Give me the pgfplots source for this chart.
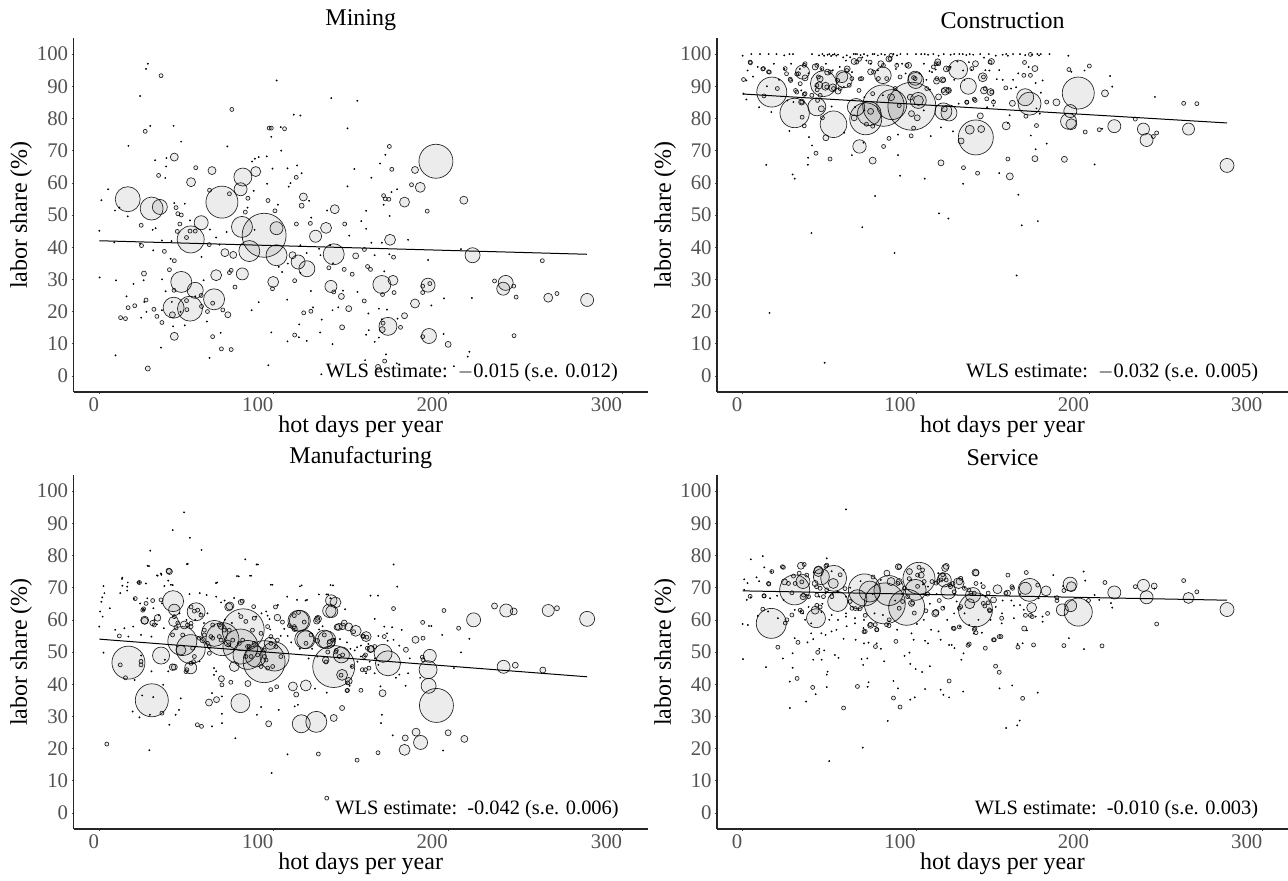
\documentclass[border=0pt]{standalone}
\usepackage{pgfplots}
\usepackage{fontspec}
\setmainfont{Liberation Serif}
\pgfplotsset{compat=1.18}
\definecolor{tickgray}{gray}{0.32}
\pgfplotsset{
  panel/.style={
    scale only axis, height=177pt, xmin=-14.8, xmax=314.6, ymin=-5, ymax=105,
    axis lines=left, axis line style={-, line width=0.55pt, black!85},
    xtick={0,100,200,300}, ytick={0,10,...,100},
    tick style={tickgray, line width=0.3pt}, major tick length=1pt, tick align=outside,
    /pgf/number format/assume math mode=true,
    tick label style={text=tickgray, font=\fontsize{10.4}{12}\selectfont},
    x tick label style={anchor=north east, xshift=1pt, yshift=-0.6pt, inner sep=1pt},
    y tick label style={anchor=east, xshift=0pt, inner sep=1.5pt},
    xlabel={hot days per year}, ylabel={labor share (\%)},
    every axis x label/.style={at={(axis description cs:0.5,-0.099)}, anchor=center, font=\fontsize{12}{14}\selectfont},
    every axis y label/.style={at={(axis description cs:-0.091,0.5)}, anchor=center, rotate=90, font=\fontsize{12}{14}\selectfont},
    every axis title/.style={at={(axis description cs:0.5,1.05)}, anchor=center, font=\fontsize{12}{14}\selectfont},
    clip=false,
  },
  bub/.style={scatter, only marks, mark=*, point meta=x,
    scatter/use mapped color={draw=black,fill=black},
    mark options={fill opacity=.075, draw opacity=.85, line width=.34pt},
    visualization depends on={\thisrow{r} \as \rad},
    scatter/@pre marker code/.append style={/tikz/mark size=\rad*0.5}},
  ring/.style={only marks, mark=*, mark size=1pt, mark options={draw=black, fill=black, fill opacity=.075, draw opacity=.85, line width=.34pt}},
  dot/.style={only marks, mark=*, mark size=.35pt, mark options={draw=black, fill=black, line width=.2pt}},
  fit/.style={black, line width=.5pt, no markers},
}
\newcommand{\wls}[1]{\fontsize{10.2}{12}\selectfont #1}
\begin{document}
\begin{tikzpicture}[x=1pt,y=1pt]
\path[use as bounding box] (0,0) rectangle (644,440);

%% ---------- Mining
\begin{axis}[panel, at={(36.75pt,244pt)}, anchor=south west, width=287.25pt, title={Mining}]
\addplot[bub] table[row sep=\\]{x y r\\
16.3 54.9 12.5\\ 30 52 11.5\\ 34.7 52.5 7.5\\ 70.3 54 16\\ 82.3 61.8 9\\ 89.7 63.5 5\\ 81 58 6.5\\ 52.4 42.4 13.5\\ 58.4 47.6 7\\ 94.5 43.7 22\\ 81.8 46.3 10.5\\ 86 38.8 10.5\\ 101.6 37.5 10.5\\ 101.6 45.9 6.5\\ 47 29.2 10.5\\ 55 26.6 8\\ 65.8 23.8 10.5\\ 52 20.9 12.5\\ 42.6 21.2 10.5\\ 193 66.7 17\\ 43 68 4\\ 64.6 63.8 4\\ 52.6 60.2 4.5\\ 184 58.6 5\\ 175 54 5\\ 181 64 3.5\\ 135 51.8 4.5\\ 130 46 5.5\\ 124 43.4 6\\ 166.7 42.3 5.5\\ 214 37.5 7.5\\ 134.4 37.8 10.5\\ 114 35.4 7\\ 119 33.3 8\\ 99.7 29.2 5.5\\ 82 31.7 6\\ 67 31.3 5.5\\ 132.8 27.8 6\\ 162 28.4 9\\ 168.4 29.7 5\\ 188.5 28.2 7\\ 233 28.9 7.5\\ 231.6 27.1 6.5\\ 257.4 24.3 4.5\\ 279.7 23.6 6.5\\ 165.5 15.4 9\\ 189 12.4 7.5\\ 181 22.5 4.5\\ 43 12.3 4\\ 209 54.6 4\\ 117 55.6 4\\ 72 38.3 4\\ 110.8 37.5 3.5\\ 76.8 37.6 3.5\\ 147 37.3 3\\ 138.8 24.7 3\\ 175 18.7 3\\ 200 9.8 3\\ 143 20.9 3\\ 139.2 15.1 2.5\\ 162.2 14.4 3\\ 73.7 19 3\\ 41.9 19 3\\ 159.8 2.8 2.5\\ 27.8 2.3 2.5\\ 25.6 31.8 2.5\\ 116 52.9 2.5\\
};
\addplot[ring] coordinates {(35.4,93.3)(76,82.8)(26.3,76)(97.4,77)(98.6,77)(106.2,76.8)(166.3,71.3)(34,62.3)(112.9,61.7)(167.7,64.2)(63.2,57.7)(74.6,56.6)(85.2,55.2)(96.7,54.5)(100.7,51.3)(44,52.3)(45,50.4)(83.7,50.9)(163,56)(166,54.9)(163.9,55)(179,59.4)(188,51.2)(140.7,47.2)(113,47.2)(121,47.4)(24,46.8)(46.2,47.2)(44.7,44.9)(24.2,40.5)(63,40.8)(37.3,38.7)(43,35.8)(254,35.8)(168.7,36.9)(152,39.3)(131.6,33.6)(140.4,33.1)(145,31.6)(153.8,34)(155.5,33.1)(40.2,33)(75.6,32.8)(74.6,32.1)(77.8,27.6)(112,29.6)(99.3,27.1)(134.4,26.1)(169,25.9)(162.4,25.3)(185.4,27.9)(185.4,25.9)(189.5,28.7)(226.6,29.5)(237.6,27.9)(239,24.5)(262.4,25.6)(151.9,23.3)(117.2,19.6)(121.3,20.1)(172.7,15.1)(162.7,16.4)(112,12.7)(185.4,12.2)(237.8,12.5)(70,8.4)(75.6,8.2)(65,12.2)(35.9,16.6)(70.8,20.5)(12.2,18.1)(15,17.8)(33,18.5)(31.3,20.7)(16.5,21.2)(20.3,21.8)(26.8,23.6)(50,23.4)(42.8,26.6)(58.4,25)(58.6,21.6)(65,22.6)(50.2,20.6)(163.6,4.6)(55.3,64.7)(50,43)(55,45)(52,45)(62,20)(47,50)};
\addplot[dot] coordinates {(27.8,97)(26.8,95.4)(23.4,87)(101.7,91.8)(111.5,81.2)(115.3,80.9)(133,86.3)(148,85.5)(16.7,71.5)(29.2,77.7)(42.6,77.7)(46.9,72.8)(73.4,71.3)(104,77.3)(98.6,74.3)(104.3,70)(142.3,76.9)(164,68.7)(89.2,67.5)(87.6,66.6)(91.4,68)(96,68.2)(32,67)(38.5,67.7)(38.3,65.1)(37.8,61.5)(99.3,64.4)(107.9,64.5)(113.4,65.4)(116,63)(146.2,64.3)(161,66)(156,61.6)(96.2,59.7)(109.6,59.9)(108.6,58.8)(142.3,58.9)(5,58)(88.5,57.5)(120.3,54.4)(102.4,53.2)(1.2,54.6)(9,51.4)(11.5,52.3)(16.3,49.6)(43,53.7)(49,53.5)(85,52.3)(130.6,51.4)(153,51.3)(163,53.2)(167.5,57.1)(170.8,58)(166.5,49.7)(150.2,48.1)(153,45.7)(143.3,43.6)(121.5,49.2)(0,45.1)(30.6,45.4)(32.3,45.9)(52,48.3)(63.4,45.5)(73,44.7)(67,43)(89,45.4)(8.6,41.5)(23.4,41.1)(35.9,42.1)(41.4,41.9)(68.9,40.8)(30.9,39)(40.9,36.4)(58.6,37)(115.3,40.6)(118.9,38.2)(126,39.5)(126.8,37.5)(132.3,40.6)(156,41.4)(162,41.4)(177,42.3)(207.4,39.4)(188.5,36)(166.3,37.8)(157.9,37.5)(134,35)(163.4,32.5)(36,30)(9.6,29.7)(25.4,29.7)(19.6,28.6)(59.8,29.7)(102.9,33.9)(104.8,32.3)(108.1,34.9)(115.3,32)(121.3,26.4)(139.7,26.5)(148,26.1)(213.6,24.2)(197.6,24.1)(190.4,21.9)(107.7,23.7)(91.4,22.9)(87.3,20.4)(122.5,21.3)(133.7,20.4)(137,21.3)(154.3,19.4)(160.3,20.9)(165,20.6)(171,17.8)(162,17.6)(154.5,14.2)(127.5,17.5)(114.6,16)(126.6,13.5)(98.6,13.5)(114.4,12)(118.9,10.9)(107.9,10.7)(133.7,9.9)(153,12.8)(157.9,10.6)(160.3,11.9)(197.4,13)(35.4,8.8)(69.6,13.4)(49,15.7)(42.3,15.4)(61.7,16.9)(9.3,6.4)(24,18.1)(27,19.9)(35.9,20.4)(15.6,24.7)(25.8,23)(38,26.3)(41.6,23)(55,24.7)(46.6,19.9)(63.2,5.6)(96.9,3.3)(152.4,4.9)(164.4,6.7)(170.6,3.9)(203.3,3)(211.2,6)(212.2,7.5)(127.3,.5)(0.2,30.6)};
\addplot[fit] coordinates {(0,42)(279.6,37.8)};
\node[anchor=east, inner sep=0pt] at (axis cs:297.6,1.1) {\wls{WLS estimate:\ \ $-$0.015 (s.e. 0.012)}};
\end{axis}

%% ---------- Construction
\begin{axis}[panel, at={(358.5pt,244pt)}, anchor=south west, width=285.5pt, title={Construction}]
\addplot[bub] table[row sep=\\]{x y r\\
16.8 88.2 15\\ 30 81.7 14.7\\ 42.8 83.6 9\\ 52.4 78.2 13.3\\ 46.6 90.8 13\\ 58.6 92 8\\ 34.5 94.4 7\\ 71 79.9 16\\ 65.4 83.5 8.7\\ 73 81.5 12\\ 81.2 84 20.7\\ 86 84.3 15\\ 97.6 83.8 24\\ 101.3 85.6 8\\ 115.8 82.2 8.5\\ 119 81.7 8\\ 130.2 90 8\\ 124.3 95.2 9.5\\ 134.5 74.1 17.5\\ 67.4 71.3 6.7\\ 80.9 93.4 8.3\\ 99.5 92.5 7\\ 163 86.6 8.5\\ 165.5 84.6 11.5\\ 193.6 87.9 16\\ 189 82.3 6.5\\ 188 79.1 8\\ 189.6 78.2 5.5\\ 214.4 77.6 6.5\\ 231.2 76.7 6\\ 233 73.3 6.5\\ 257.2 76.7 6\\ 279.4 65.4 7\\ 209 87.8 3.5\\ 181 85 3.5\\ 152 77.7 4\\ 131 76.5 4.5\\ 137.6 76.7 3.5\\ 126 73 3\\ 75 66.9 3.5\\ 114.4 66.2 3\\ 154.1 62 3.5\\ 168.6 67.5 3\\ 185.6 67.3 3\\ 168.6 95.5 3\\ 155.6 84.7 3\\ 143.5 97.7 3\\ 134.3 97 3\\ 138.5 92.8 4.5\\ 139.2 88.7 3.5\\ 143 88.2 3.5\\ 137.1 80.8 3\\ 112.5 97.6 3\\ 117.5 95.4 3\\ 111.8 91.6 3\\ 115.4 92 3\\ 116.8 88.5 4\\ 118.7 88.7 3\\ 113 86.7 3\\ 99.8 91.8 8\\ 95.7 96.5 3\\ 79.7 97 3\\ 84.4 98.5 3\\ 73.8 94.5 3\\ 64.3 97.7 3\\ 60.3 95.4 3\\ 57.2 93 6\\ 49 94.4 3\\ 41.8 96 3\\ 36 92.6 3\\ 34 85.1 3\\ 48 74 3\\ 45.4 83 3\\ 64.3 80.2 3\\ 73.8 82.2 3\\ 85.6 86.6 3.5\\ 96.7 86.6 3\\ 101.4 85.6 5\\ 97.4 81.5 3\\ 100.7 80.2 3\\ 116.3 83 3\\ 47.8 90 4\\ 44.2 90.3 3.5\\ 44.7 92.3 3\\ 52 89.5 4\\ 55 88.5 3\\
};
\addplot[ring] coordinates {(42.3,69.2)(50.4,67.4)(81.3,71.3)(84.4,73.8)(97.2,74.6)(98.6,77)(127.4,64.7)(135.5,63)(153,67.4)(169.5,77.8)(197.6,75.8)(205.7,76.5)(226.5,79.8)(236.9,74.4)(238.8,75.5)(254.4,84.7)(262,84.6)(200,96.3)(188.2,95.2)(175.4,85.1)(163.4,80.7)(162.6,97.4)(166,99.9)(162.2,93.4)(166,93.4)(151.8,89.5)(133.6,86)(129.3,85)(111.6,97)(98.6,92.7)(85.6,99.6)(67.4,98.4)(67.8,92.3)(35.5,96.5)(31.2,93.8)(25.3,93.9)(27.7,91.8)(15.4,94.4)(11.6,95.4)(4.5,97.3)(.5,92.1)(12.3,87)(20,89.3)(30.5,88.7)(35.5,87.5)(35.5,77.7)(34.3,80.4)(46,80.2)(71.4,78.2)(75,77.6)(67.1,88.7)(75,87.7)(90.3,84)(43,88.9)(61.5,90.3)(54.8,91.8)
(4.3,97.5)(12,95.5)(14.9,94.5)(24.5,95.5)(27.4,92.2)(31.2,88.2)(34.1,85.1)(36,87.7)(33.2,90.8)(32.2,93.9)(36,97)(42.8,96.5)(45.7,95.5)(50.5,94.4)(43.7,92.9)(42.8,90.3)(39.9,87.2)(43.2,85.6)(44.7,87.2)(48.5,89.8)(52.4,89.3)(56.2,89.3)(60.1,94.9)(65.8,97.5)(68.7,92.4)(63,92.4)(75.5,94.4)(73.5,97.5)(81.2,96.5)(78.3,92.4)(83.1,92.4)(85,98.6)(88.9,96.5)(90.8,92.9)(88,89.3)(94.7,96.5)(99.5,92.4)(106.2,89.3)(112,92.4)(115.8,91.9)(110,96)(113,97)(118.7,95.5)(132.2,95.5)(142.7,97.5)(138.9,92.9)(139.9,89.3)(143.7,88.2)(134.1,85.6)(140.8,86.1)(144.7,85.1)(129.3,85.1)(115.8,88.7)(118.7,88.7)};
\addplot[dot] coordinates {(0,99.5)(5,100)(10,100)(15,100)(19.5,100)(24,99.6)(27,100)(29,100)(40,100)(44,99.6)(46,100)(47,99.5)(49,99.8)(50,100)(51,99.4)(52,99.8)(53,100)(54,99.5)(55,99.8)(58,99)(60,99.6)(64,100)(65,100)(66,100)(68,99.7)(70,100)(72,99.5)(75,100)(76,100)(78,99.6)(80,100)(82,99.8)(87,100)(89,99.6)(91,100)(95,100)(100,100)(103,100)(105,100)(107,99.8)(110,100)(113,99.5)(116,100)(120,99.8)(122,100)(125,100)(127,100)(129,99.7)(131,100)(133,99.8)(137,100)(142,100)(146,99.5)(150,99.8)(152,100)(153,99.5)(156,100)(160,100)(163,99.7)(167,99.8)(170,100)(171,99.6)(172,100)(177,100)(187.9,99.5)
(15.5,19.6)(47.3,4.1)(39.7,44.4)(87.6,38.2)(69,46.2)(76.4,55.9)(113.3,50.5)(118.7,48.9)(159,56.3)(161,46.8)(170.3,48.1)(158,31.2)(28.8,62.6)(30,61.3)(13.6,65.6)(37.8,67.8)(37.6,65.6)(63,68.6)(69.7,72.5)(89.6,75)(89.6,68.6)(90.8,62.2)(105,61.3)(127.2,59.7)(148,63)(203,65.7)(169,70.4)(175.4,72.2)(166.2,74.7)(207.3,76.8)(237.8,86.7)(213.2,89.9)(212,93.2)(189.6,94.5)(197.2,94.9)(169.5,83.1)(171.4,81.5)(173,91.8)(154.8,89.3)(157.7,89.7)(154,81)(153,78.6)(146.6,92.2)(139.2,98.9)(130.5,97.5)(123.9,97.7)(127.2,94.9)(142.3,94.9)(124.6,84.6)(144.7,85.6)(141,83.5)(144.7,84)(121.3,76)(114.4,77.2)(108.5,74.5)(111.3,95.2)(109.2,94.4)(107.8,94.7)(104.5,97)(88.4,95.4)(89,97)(69,99)(71.4,98)(59.6,98)(63.1,94.4)(45.4,95.4)(33,95.4)(24,95.4)(8.7,96)(2.8,94.9)(2.1,91.8)(.5,87.7)(2.1,85.9)(9.5,83.5)(16.5,82)(25.8,85.6)(29.3,85.1)(33.8,88.7)(27,76.1)(38.3,74.2)(40,71.6)(51.3,83.7)(58.6,75.6)(64.8,83.5)(70.2,82.5)(70.2,86.6)(80.9,87.2)(104.5,82.5)(58.4,89.8)(48,97)(52,95)(56,96)(62,99)(74,97)(78,95)(92,97)(94,94)(102,94)(106,92)(108,89)(120,96)(122,92)(128,92)(132,95)(140,95)(148,95)(150,92)(156,92)(159,94)(165,96)(169,91)(172,88)(18,97)(21,92)(14,90)(6,93)(28,97)(38,94)(42,90)};
\addplot[fit] coordinates {(0,87.6)(279.4,78.6)};
\node[anchor=east, inner sep=0pt] at (axis cs:297.6,1.1) {\wls{WLS estimate:\ \ $-$0.032 (s.e. 0.005)}};
\end{axis}

%% ---------- Manufacturing
\begin{axis}[panel, at={(36.75pt,25.5pt)}, anchor=south west, width=287.25pt, title={Manufacturing}]
\addplot[bub] table[row sep=\\]{x y r\\
16.7 46.7 16.5\\ 30.1 35 16.5\\ 35.4 48.9 8.5\\ 42.3 65.8 10.5\\ 55.5 62.5 9\\ 47.6 53.4 14.5\\ 52.4 50.9 14.5\\ 52.4 45.1 6\\ 66 55.8 13\\ 70.6 54 16.5\\ 82.5 56.9 21\\ 80.9 51.7 17.5\\ 85 49.1 14.5\\ 89.7 48.6 10.5\\ 94.5 47 21\\ 100.5 48.6 14.5\\ 98 52.7 6\\ 80.9 34.1 9.5\\ 115 59.7 10.5\\ 118.4 53.8 9\\ 135.4 65.4 5.5\\ 133.3 62.6 6\\ 130.4 53.8 9\\ 134.4 45.5 21\\ 138.8 49.1 8\\ 139.2 42.9 5.5\\ 118.4 39.6 5.5\\ 111 39.3 4.5\\ 115.8 27.7 9\\ 124.4 28.3 10.5\\ 162.7 49.6 9\\ 165.5 46.5 12.5\\ 189.5 48.8 6.5\\ 188.5 44.5 9\\ 188.8 39.5 7.5\\ 193.3 33.4 17\\ 184.2 21.9 7\\ 175 19.6 5.5\\ 181.6 25.1 4\\ 175.4 23.3 3\\ 200 24.9 3\\ 209.3 23 3.5\\ 214.6 60 7\\ 233.3 62.9 6.5\\ 257.4 62.9 6\\ 279.7 60.3 7.5\\ 231.8 45.4 6.5\\ 254.3 44.4 3\\ 226.6 64.3 3\\ 237.6 62.6 3.5\\ 262.4 63.6 2.5\\ 238.5 45.9 3\\ 147 56.6 5.5\\ 143 57.8 4\\ 153 54.8 5\\ 137.3 57.8 3.5\\ 140.4 59 3\\ 155.5 50.9 3.5\\ 181.3 53.8 3.5\\ 175.8 50.7 2.5\\ 74.9 64.3 4\\ 125.4 60.3 3.5\\ 40.2 75 3\\ 62.9 34.3 3.5\\ 67.2 35.2 3\\ 70 41.7 3\\ 85.2 40.2 3\\ 97.1 27.7 3\\ 134.4 29.5 3.5\\ 139.2 32.6 2.5\\ 143 41 3.5\\ 112.9 36.8 2.5\\ 162.4 37.2 3.5\\ 26 59.7 3.5\\ 43 63.1 5.7\\ 42.6 59.5 5\\ 26 59.9 4\\ 33.4 60.6 3.3\\ 30.5 59 2.7\\ 22.5 71.6 1.7\\ 39.8 75.2 2.7\\ 74.2 64 4\\ 81.2 65.5 2.7\\ 102.1 60.7 3.3\\ 114.2 59.7 10.5\\ 124.7 59.7 3.3\\ 112 57.2 2.7\\ 117.5 54 9.5\\ 125 53.5 2.3\\ 129 54 9\\ 136.3 57.7 3\\ 139.5 58 3.3\\ 132.8 52.7 4\\ 129.8 47.5 3.3\\ 155.8 51 3.3\\ 69.8 57.9 2.7\\ 73.6 52.7 3.3\\ 59.3 53.7 2.7\\ 48.7 58.4 4\\ 46.8 50.6 5\\ 42 45.3 3.3\\ 77.4 45.5 5\\ 43 45.3 3\\ 133 66 5.7\\ 131.9 62.8 6.7\\
};
\addplot[ring] coordinates {(12,46)(15,42)(23.9,46)(52.6,64)(54,47)(70.3,39.8)(142,38)(168.7,63.5)(185.4,59.2)(197.6,62.9)(206,57.4)(185.6,54.3)(185.2,48.4)(185.6,47.6)(159.8,18.7)(147.8,16.4)(125.6,18.3)(130.4,4.6)(4.3,21.4)(35.9,31)(23.9,47.1)(50.2,44.5)(75.4,40.6)(56.2,27.4)(58.6,26.9)(98.3,38.3)(101.7,39.2)(142.3,38.1)(150,38.1)(152.6,44.5)(151.9,48.6)(157.9,51.7)(152.6,49.1)(163.4,54.8)(82,65.8)(88.5,64.1)(11.5,55)(20.6,66.6)(30.6,66)(35.4,66.2)(23,71.6)(25.4,63.4)(101,64)(105,59.3)(109,58.2)(145.8,56.3)(151,55)(153.4,54.6)(135.9,50.5)(60.2,56.8)(64,54.8)(65,58.4)(52.6,57.9)(47.8,55.3)(53.5,51.2)(57.3,54.3)(63,51.7)(68.8,54.8)(74.5,56.8)(80.3,52.7)(86,51.7)(90.8,49.1)(94.6,48.6)(96.5,45)(99.4,45.5)(92.7,45.5)(84,48.6)(49.7,43.9)
(31.5,58.4)(24.9,63)(26.8,65.1)(43,61)(44,57.5)(42,55.3)(45,59)(54.5,62.7)(56.4,63)(58.3,61.5)(50.6,58.4)(52.6,58.9)(60.2,55.3)(62,52.7)(54.5,48.6)(52.6,46.5)(63.1,49.6)(65,54.3)(68.8,58.4)(69.8,53.7)(71.6,56.8)(74.2,52.2)(76.5,53.7)(81.2,61)(84,59.5)(88.8,60.5)(87.8,56.8)(92.7,55.8)(82.2,53.7)(85,51.7)(88.8,52.7)(87,48.6)(94.6,50.6)(95.6,47.5)(98.4,52.7)(101.3,51.7)(104.1,48.6)(102.1,53.7)(98.4,54.8)(96.5,57.9)(111.8,61.3)(117.5,59.3)(114.2,62.3)(111.8,57.9)(118.5,52.7)(121.4,55.3)(125.2,60.5)(129,55.3)(131.9,53.2)(133.8,53.7)(131,50)(130,46.9)(135.6,50)(138.6,42.8)(142.4,40.4)(139.5,49.1)(137.6,48.6)(145,45.5)(150.8,44.5)(154.6,45)(153.7,51.2)(151.5,54.8)};
\addplot[dot] coordinates {(48.6,93.4)(42.1,87.9)(51.9,85.5)(58.6,81.7)(29.2,81.5)(83.7,78.8)(90.9,77.2)(50.7,77.4)(28.5,76.7)(168.7,77.2)(33.5,73.7)(35.6,74)(79.9,73.5)(87,73.7)(13.2,73.1)(16.3,71.6)(23,71.7)(39.5,72.2)(42.1,70.8)(67.5,71.6)(134,70.7)(116,70.7)(99.3,70.9)(170.8,70.3)(2.4,70.5)(1.2,65.6)(2.9,68.3)(1.7,67)(.5,62.6)(1.9,61)(0,57.9)(6,63.6)(12,68.3)(16,70.3)(16,69.1)(19.9,66.5)(27.5,66.7)(23.4,65.1)(25,63.1)(31.6,60)(33,58.6)(34.2,61.5)(37,57.4)(31,63.6)(35.9,65.1)(51.7,68)(57.6,68.3)(61.5,67.7)(67,67.2)(71.8,66)(77.3,66.8)(95.7,62.6)(102.4,64.6)(107.7,67.2)(113.4,66.2)(119.1,66.2)(131.1,67.9)(132.5,66.7)(155.5,67.5)(159.8,67.5)(157.9,60.3)(163.4,57.9)(167.9,57.7)(173.4,56.9)(165,55.8)(165.3,53.5)(168.7,53.8)(189,58.1)(190.4,58.1)(196.6,55.3)(212.2,54.1)(207.4,49.9)(203.3,45)(177,43.4)(175.6,39.5)(161.2,39.3)(162,30.5)(161.5,27.9)(168.2,24.1)(197.1,19.4)(107.9,18.2)(98.8,12.4)(78,23.2)(28.7,19.5)(43.8,30.5)(40.2,27.4)(45.7,32)(29,30.5)(23,29.7)(19.1,31.5)(24.6,36.5)(30.9,36)(36.6,39.8)(46.7,35.6)(29.9,44)(24,48.9)(20.3,41.3)(2.4,49.8)(16.7,54.8)(9.1,56.9)(14.4,57.4)(19.4,57.9)(23.9,55.3)(29.9,54.8)(39.5,44)(37.6,47.6)(57.4,47.1)(65.8,45)(67,44)(65.8,42.9)(64.6,37.2)(70.3,36.2)(70.3,30.8)(70.3,27.9)(64.6,26.9)(90.4,30.5)(92.8,32.9)(102.9,32)(112,33.1)(113.9,33.6)(129.2,30.2)(123.7,38.6)(130.4,37.4)(143.5,39.5)(144.7,45.5)(153,43.4)(157.9,43.4)(146.4,50.5)(147.8,51.5)(154.3,52.5)(13,72.7)(13.2,70.6)(26.7,71.3)(37.3,70.5)(41,70.9)(33.1,73.8)(35.3,74.4)(27.7,76.8)(50.3,77.3)(66.9,71.4)(78.9,73.6)(86.4,73.7)(90.2,77.2)(98.4,70.9)(115,70.4)(118.3,66)(132.6,70.8)(130.2,67.9)(140.9,63.3)(125.9,67.9)(69.8,65.4)(97.6,60.2)(96.5,61.3)(106,57.2)(125,48.6)(150,48.6)(55,60)(58,62)(60,59)(62,62)(46,62)(50,60)(72,60)(76,59)(80,62)(90,61)(93,62)(98,57)(104,55)(108,55)(110,53)(115,51)(120,48)(122,51)(126,57)(128,58)(135,54)(138,54)(142,53)(144,51)(148,47)(150,52)(155,47)(158,48)(160,46)(170,42)(172,43)(160,55)(172,52)(178,48)(184,42)};
\addplot[fit] coordinates {(0,54)(279.7,42.3)};
\node[anchor=east, inner sep=0pt] at (axis cs:298,1) {\wls{WLS estimate:\ \ -0.042 (s.e. 0.006)}};
\end{axis}

%% ---------- Service
\begin{axis}[panel, at={(358.5pt,25.5pt)}, anchor=south west, width=285.5pt, title={Service}]
\addplot[bub] table[row sep=\\]{x y r\\
16.5 58.9 15\\ 30 69.3 15\\ 42.3 60.5 9.5\\ 34.8 71.9 7\\ 45.4 73.4 8\\ 52.5 72.9 13\\ 54.8 65.7 10\\ 70.2 69.3 16\\ 66.2 66.4 9.5\\ 73.3 68.8 10.5\\ 82 65.1 20.5\\ 84.4 69.1 15\\ 94.6 63.9 18\\ 101.7 72.9 16\\ 99.8 69.3 10.5\\ 116.3 72.4 7\\ 118.7 68.8 7.5\\ 124.6 71.4 5.5\\ 134.3 63.1 17\\ 131 65 5\\ 132.9 67.7 7.5\\ 165.5 69.3 11.5\\ 163.1 69.8 6\\ 175 69 5\\ 166.7 63.8 5\\ 193.6 62.4 14\\ 189.2 64.4 6\\ 184.4 63.1 6\\ 188.9 71.1 7\\ 189.6 70.3 5\\ 214.4 68.5 6.5\\ 231.2 70.7 6\\ 233 67 6.5\\ 257.2 66.8 5.5\\ 279.4 63.2 7\\ 147 69.5 4.5\\ 134.3 74.7 3.5\\ 33.6 76.8 3.5\\ 111.1 62 3.5\\ 237.4 70.5 3\\ 162.4 57.3 2.5\\ 73.8 58.3 3\\ 24.1 71.8 3\\ 34.8 67.2 3\\ 43.7 75 5\\ 41.8 63 4\\ 83.2 74.5 3\\ 89.8 76.5 3\\ 96.2 75 3\\ 103 73.9 3\\ 90.3 71.9 3\\ 85.6 71.9 4\\ 116.8 76.1 3.5\\ 115.1 73.4 4\\ 97.4 65.1 3\\ 144.7 66.2 3\\ 52.3 71.3 5\\ 43.7 75.5 4\\ 41.8 71.3 3\\ 70.7 56.4 2\\ 90.4 76.5 2.3\\ 117.4 76.6 3\\ 125 71.9 3.3\\ 134.6 74.6 3\\ 152.8 68.3 3\\ 111.5 62.3 3\\
};
\addplot[ring] coordinates {(58.2,32.6)(90.8,32.9)(87,35.7)(161.5,35.6)(119.1,41)(66.2,39.3)(40.4,39)(31.4,41.8)(145.9,45.6)(148,43.7)(20.3,51.5)(43.3,49.9)(31.9,53)(76.6,51.7)(88.4,53.3)(130,52.1)(140,51.2)(144.7,53.8)(148,54.8)(158.8,51.5)(167.8,52.2)(185.3,52)(207.3,51.9)(238.8,58.7)(199.5,66)(209,71.6)(226.5,70.3)(254.4,72.2)(262,68.7)(185.3,69.1)(181.3,66.9)(181.3,66)(175.9,62)(166,61.4)(167,61)(163.1,61.4)(149.4,60.5)(134,57.4)(121.5,57.4)(84.4,58.2)(77.3,56.9)(70,56.3)(24.6,59)(11.6,63.3)(22.9,76.5)(15.1,71.1)(12.3,67.5)(29.3,73.6)(32.6,74.5)(35.5,77.2)(48,76.7)(42.6,70.3)(63.1,63.6)(75.2,73.3)(101.7,76.3)(109.2,71.9)(111.6,71.4)(125.8,72.9)(119.9,70.3)(90.3,63.6)(138.8,65.1)(142.3,63.1)(125.8,64.1)(130.5,69.3)(151.8,68.3)(155.3,70.3)(153,73.9)(163.6,74.7)(170.2,70.8)
(23.5,76.3)(16.8,75)(14.9,71.3)(12.4,67.4)(4.3,67.3)(26.4,71.3)(28.4,68.4)(30.3,71.3)(34.1,71.8)(37,73.9)(44.7,69.8)(42.8,67.7)(38,67.2)(35.1,67.7)(48.5,77)(56.2,74)(59,69.7)(48.5,69.3)(46.6,67.2)(51.4,67.2)(44.7,64)(42.8,64.5)(28.4,61.5)(25.5,60)(33.2,63)(34.1,62.5)(62,65.7)(65,63.5)(67.8,63.5)(70.7,61.4)(73.6,58.5)(76.5,58.5)(77.4,57)(83,58.5)(84.5,60)(89.5,71.3)(93.3,69.8)(96.1,72.8)(100.9,73.9)(103.8,75.5)(104.7,71.9)(100.9,70.4)(106.7,68)(95.2,67.2)(92.3,65.7)(98,65.2)(99,62.1)(105.7,62.8)(112.5,71.9)(115.4,74)(114.4,72.4)(117.4,72.4)(119.4,70.9)(122,68.7)(121.3,71.3)(113.4,66)(115.4,63.6)(127.9,69.8)(131.7,68.3)(133.6,68.3)(134.6,71.3)(138.8,70.3)(141.6,68.3)(141.6,65.3)(139.7,64.3)(142.6,62.8)(125,63.6)(122,57.3)(125,57.8)(130.7,52.5)(133.6,57)(134.6,56)(145.2,53.8)(149,54.8)(155.7,69.8)};
\addplot[dot] coordinates {(59.6,94.3)(49.9,16.1)(69.3,20.3)(27.2,32.6)(36.6,34.6)(83.7,28.6)(96.7,35.2)(99.3,35.9)(152,26.4)(158.4,27.2)(159.8,28.7)(170.2,37.4)(155.5,39.6)(148.2,38.7)(127.2,37.7)(119.1,35.9)(115.8,36.7)(114.2,38.3)(105.2,38.5)(89.6,38.7)(87,41)(72.6,40.6)(72.1,39.2)(48.5,39.1)(42.1,36.9)(27.2,40.8)(28.8,45.1)(13.5,45.3)(.2,47.8)(0,58.7)(3,58.4)(48.5,43)(49,43.9)(93.4,48.8)(96.2,49.8)(96.7,46.3)(99.8,44.7)(103.5,43.8)(108,45.6)(126.2,47.6)(127.4,49.6)(68.6,47.8)(71.9,48)(69.5,46)(81.6,47.1)(40.7,47.6)(45.6,47.6)(53.2,49.1)(55.3,48.2)(23.2,48)(28.8,49.6)(44.2,51)(47,50.5)(37.4,53)(30,54.3)(40.7,54)(65.2,53.8)(70,52.7)(72.6,52.9)(79.7,51)(77.3,52.7)(98.6,53.8)(105.2,53.5)(106.9,52.7)(114.2,53.8)(119.1,52.2)(120.6,52.2)(122.2,51.2)(158.6,52.5)(161.5,52.7)(188.2,54.3)(196.9,50.9)(212.5,65.2)(213.2,63.8)(205.7,66.2)(203,67.7)(197.6,72.2)(196.7,75)(237.6,69.7)(179.2,73.9)(184.9,70.5)(173,61)(173,59.4)(169,61)(162.2,63.1)(164,56.7)(156.5,60.5)(149.6,62)(149.4,58.9)(133.3,55.8)(130.7,58.4)(125.3,57.9)(108.7,56.9)(113,56.4)(104.5,60)(100.5,58.7)(97.4,55.8)(89.1,56.9)(69.7,57.4)(64.8,58.9)(64.8,60.5)(59.6,61)(54.1,56.9)(51.3,56.4)(58.2,54.1)(45.4,55.8)(39.5,55.8)(47.8,55.3)(39.5,58.9)(33.6,62.6)(30,63.1)(34.8,62)(20.3,60.5)(14.7,62.6)(8.7,61.2)(2.4,66.2)(4.7,67)(.9,72.6)(2.8,71.4)(.9,69.3)(4.7,78.8)(11.6,79.8)(12.5,76.3)(16.5,75)(8,73.2)(9.5,72)(15.8,66.7)(19.9,67.5)(23.6,66.2)(41,74.7)(48.5,79.1)(51.3,75.1)(58.2,75.5)(37,67.7)(44.2,67.2)(47.8,68.2)(54.8,68.8)(59.6,67.2)(66.7,63)(59.6,62)(51.3,61.5)(50,60)(45.4,62.4)(97.4,72.4)(79.7,72.4)(112.8,74.5)(105.7,67.7)(106.9,70.3)(84.4,59.5)(76.1,62)(80.9,61.5)(140,67.2)(123.4,65.7)(137.6,71.4)(170.7,66.7)(180,67.2)(156.5,64.4)(160,64.6)(136,60)(128,62)(122,62)(118,60)(116,64)(108,65)(112,68)(122,68)(128,70)(146,64)(150,66)(155,66)(160,68)(143,60)(138,56)(70,60)(60,58)(55,60)(36,60)(38,64)(46,65)(52,68)(62,70)(68,72)(75,68)(88,66)(92,68)(104,71)};
\addplot[fit] coordinates {(0,69)(279.4,66.1)};
\node[anchor=east, inner sep=0pt] at (axis cs:297.6,1) {\wls{WLS estimate:\ \ -0.010 (s.e. 0.003)}};
\end{axis}
\end{tikzpicture}
\end{document}
